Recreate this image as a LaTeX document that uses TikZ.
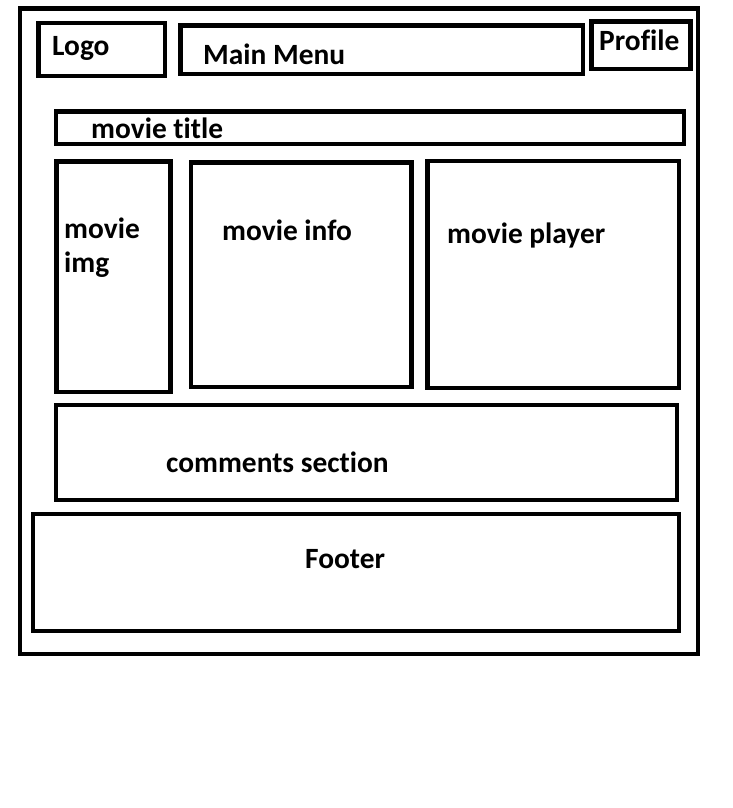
\documentclass[tikz,border=0pt]{standalone}
\usepackage{fontspec}
\setmainfont[Ligatures={NoCommon}]{Carlito}
\begin{document}
\begin{tikzpicture}[x=1pt,y=-1pt,
  box/.style={draw=black,line width=4.6pt},
  lbl/.style={anchor=base west,inner sep=0pt,font=\fontsize{29.4}{31}\selectfont\bfseries}]
\useasboundingbox[fill=white] (0,0) rectangle (733,808);
% outer frame
\draw[box] (20,8.5) rectangle (698,654);
% header
\draw[box] (38.5,23) rectangle (165,76);
\draw[box] (180.5,25.7) rectangle (583,74);
\draw[box] (591.5,21.7) rectangle (690.5,69);
% title
\draw[box] (56,111.3) rectangle (684,144);
% content
\draw[box] (56.5,161.5) rectangle (170.3,392);
\draw[box] (191,162.3) rectangle (411.7,387);
\draw[box] (427.5,161) rectangle (679,388);
% comments
\draw[box] (56,405) rectangle (677,500);
% footer
\draw[box] (33,514) rectangle (679,631);
% labels
\node[lbl] (logo) at (52,55.5) {Logo};
\node[lbl] (menu) at (203,64.5) {Main Menu};
\node[lbl] (profile) at (599,51) {Profile};
\node[lbl] (title) at (91,138.5) {movie title};
\node[lbl] (img1) at (64,238) {movie};
\node[lbl] (img2) at (64,272.5) {img};
\node[lbl] (info) at (222,240.5) {movie info};
\node[lbl] (player) at (447,243.5) {movie player};
\node[lbl] (comments) at (166,472) {comments section};
\node[lbl] (footer) at (305,568) {Footer};
\end{tikzpicture}
\end{document}
